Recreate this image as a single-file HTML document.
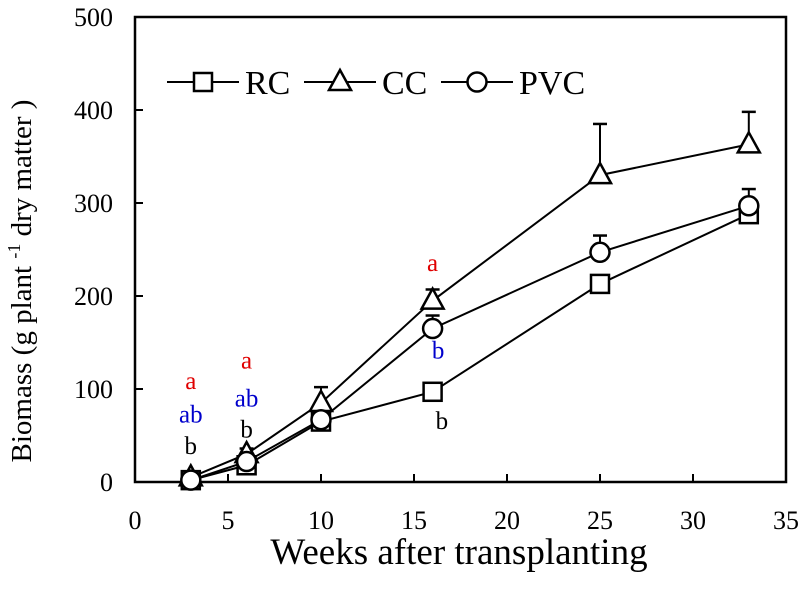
<!DOCTYPE html>
<html><head><meta charset="utf-8"><style>body{margin:0;background:#fff}svg text{font-family:"Liberation Serif",serif}</style></head>
<body>
<svg id="chart" width="800" height="584" xmlns="http://www.w3.org/2000/svg">
<g id="axes"></g><g id="series"></g><g id="legend"></g>
</svg>
<script>
const weeks=[3,6,10,16,25,33];
const rc=[2,18,65,97,213,288];
const rcErr=[0,0,0,0,0,0];
const cc=[5,30,85,195,330,363];
const ccErr=[3,6,17,12,55,35];
const pvc=[2,22,67,165,247,297];
const pvcErr=[0,4,3,14,18,18];
const xTicks=[0,5,10,15,20,25,30,35];
const yTicks=[0,100,200,300,400,500];
const sigLetters=[
 {x:3,y:100,t:"a",c:"#e00000"},{x:3,y:64,t:"ab",c:"#0000cc"},{x:3,y:30,t:"b",c:"#000"},
 {x:6,y:122,t:"a",c:"#e00000"},{x:6,y:81,t:"ab",c:"#0000cc"},{x:6,y:48,t:"b",c:"#000"},
 {x:16,y:227,t:"a",c:"#e00000"},{x:16.3,y:133,t:"b",c:"#0000cc"},{x:16.5,y:57,t:"b",c:"#000"}];
const L=135,R=786,T=17,B=482;
const X=v=>L+(v/35)*(R-L), Y=v=>B-(v/500)*(B-T);
const NS="http://www.w3.org/2000/svg";
function mk(tag,attrs,parent){const e=document.createElementNS(NS,tag);for(const k in attrs)e.setAttribute(k,attrs[k]);parent.appendChild(e);return e;}
const ax=document.getElementById('axes');
let fr=mk('rect',{x:L,y:T,width:R-L,height:B-T,fill:'none',stroke:'#000','stroke-width':2.5},ax);


xTicks.forEach(v=>{
 mk('line',{x1:X(v),x2:X(v),y1:B,y2:B-8,stroke:'#000','stroke-width':2},ax);
 let t=mk('text',{x:X(v),y:B+47,'font-size':26,'text-anchor':'middle'},ax);t.textContent=v;
 
 
});
yTicks.forEach(v=>{
 mk('line',{x1:L,x2:L+8,y1:Y(v),y2:Y(v),stroke:'#000','stroke-width':2},ax);
 let t=mk('text',{x:L-22,y:Y(v)+9,'font-size':26,'text-anchor':'end'},ax);t.textContent=v;
 
 
});
let xt=mk('text',{x:459,y:564,'font-size':37,'text-anchor':'middle'},ax);xt.textContent='Weeks after transplanting';


let yt=mk('text',{x:0,y:0,'font-size':29,'text-anchor':'middle',transform:'translate(31,281) rotate(-90)'},ax);
yt.innerHTML='Biomass (g plant <tspan font-size="18" dy="-11">-1</tspan><tspan dy="11"> dry matter )</tspan>';


const sg=document.getElementById('series');
function marker(type,cx,cy,g){
 if(type==='sq')return mk('rect',{x:cx-9,y:cy-9,width:18,height:18,fill:'#fff',stroke:'#000','stroke-width':2.5},g);
 if(type==='tri')return mk('polygon',{points:`${cx},${cy-12} ${cx-11},${cy+8} ${cx+11},${cy+8}`,fill:'#fff',stroke:'#000','stroke-width':2.5},g);
 return mk('circle',{cx:cx,cy:cy,r:9.5,fill:'#fff',stroke:'#000','stroke-width':2.5},g);
}
function series(name,vals,errs,type){
 const g=mk('g',{},sg);
 
 
 mk('polyline',{points:weeks.map((w,i)=>X(w)+','+Y(vals[i])).join(' '),fill:'none',stroke:'#000','stroke-width':2},g);
 weeks.forEach((w,i)=>{if(errs[i]>0){mk('line',{x1:X(w),x2:X(w),y1:Y(vals[i]),y2:Y(vals[i]+errs[i]),stroke:'#000','stroke-width':2},g);
  mk('line',{x1:X(w)-7,x2:X(w)+7,y1:Y(vals[i]+errs[i]),y2:Y(vals[i]+errs[i]),stroke:'#000','stroke-width':2.5},g);}});
 weeks.forEach((w,i)=>{const m=marker(type,X(w),Y(vals[i]),g);
  
  });
}
series('rc',rc,rcErr,'sq');series('cc',cc,ccErr,'tri');series('pvc',pvc,pvcErr,'ci');
sigLetters.forEach(s=>{let t=mk('text',{x:X(s.x),y:Y(s.y),'font-size':25,'text-anchor':'middle',fill:s.c},sg);t.textContent=s.t;
 
 });
const lg=document.getElementById('legend');
[['RC','sq',167],['CC','tri',304],['PVC','ci',441]].forEach(([n,ty,x0])=>{
 const g=mk('g',{},lg);
 
 
 mk('line',{x1:x0,x2:x0+72,y1:82,y2:82,stroke:'#000','stroke-width':2},g);
 marker(ty,x0+36,82,g);
 let t=mk('text',{x:x0+78,y:94,'font-size':34},g);t.textContent=n;
});
</script>
</body></html>
